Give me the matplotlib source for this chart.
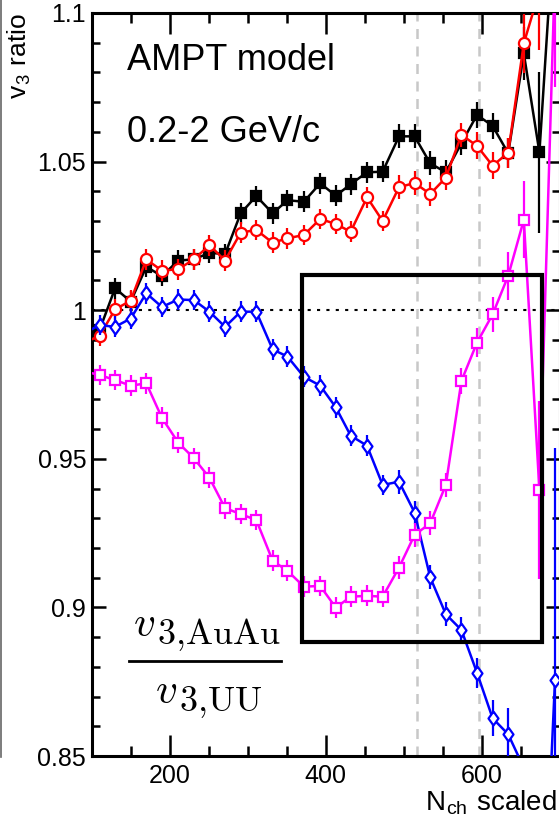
# v3 ratio AuAu/UU versus scaled multiplicity, AMPT

import numpy as np
import matplotlib.pyplot as plt
from matplotlib.lines import Line2D
from matplotlib.patches import Rectangle
from matplotlib.ticker import MultipleLocator, FormatStrFormatter

plt.rcParams['font.family'] = ['Liberation Sans', 'DejaVu Sans']
plt.rcParams['mathtext.fontset'] = 'cm'

nch = [89, 110, 130, 150, 170, 190, 211, 231, 251, 271, 291, 311, 332, 351, 372,
       393, 413, 432, 453, 473, 494, 514, 534, 554, 574, 594, 614, 634, 654, 674, 694]

ratio_black = [0.990, 0.9933, 1.0074, 1.0029, 1.0146, 1.0115, 1.0167, 1.0171, 1.0193, 1.0189,
               1.0326, 1.0384, 1.0326, 1.0370, 1.0365, 1.0427, 1.0385, 1.0424, 1.0464, 1.0466,
               1.0585, 1.0585, 1.0494, 1.0464, 1.0562, 1.0657, 1.0620, 1.0528, 1.0864, 1.0531, 1.135]
err_black = [0.004, 0.0035, 0.0035, 0.0035, 0.0035, 0.0035, 0.0035, 0.0035, 0.0035, 0.0035,
             0.0035, 0.0035, 0.0035, 0.0035, 0.0035, 0.0035, 0.0035, 0.0035, 0.0035, 0.0035,
             0.004, 0.004, 0.004, 0.004, 0.004, 0.0045, 0.0045, 0.005, 0.009, 0.027, 0.03]

ratio_red = [0.989, 0.9913, 1.0003, 1.0032, 1.0171, 1.0133, 1.0138, 1.0171, 1.0219, 1.0167,
             1.0261, 1.0270, 1.0227, 1.0242, 1.0253, 1.0307, 1.0290, 1.0264, 1.0380, 1.0300,
             1.0414, 1.0428, 1.0391, 1.0446, 1.0590, 1.0553, 1.0486, 1.0530, 1.0898, 1.1074, 1.16]
err_red = [0.004, 0.0035, 0.0035, 0.0035, 0.0035, 0.0035, 0.0035, 0.0035, 0.0035, 0.0035,
           0.0035, 0.0035, 0.0035, 0.0035, 0.0035, 0.0035, 0.0035, 0.0035, 0.0035, 0.0035,
           0.004, 0.004, 0.004, 0.004, 0.004, 0.0045, 0.0045, 0.005, 0.01, 0.02, 0.03]

ratio_blue = [0.992, 0.9950, 0.9944, 0.9972, 1.0057, 1.0011, 1.0036, 1.0034, 0.9995, 0.9944,
              0.9995, 0.9995, 0.9868, 0.9844, 0.9776, 0.9746, 0.9673, 0.9578, 0.9544, 0.9412,
              0.9423, 0.9319, 0.9101, 0.8977, 0.8924, 0.8780, 0.8627, 0.8573, 0.846, 0.760, 0.8756]
err_blue = [0.004, 0.0035, 0.0035, 0.0035, 0.0035, 0.0035, 0.0035, 0.0035, 0.0035, 0.0035,
            0.0035, 0.0035, 0.0035, 0.0035, 0.0035, 0.0035, 0.0035, 0.0035, 0.0035, 0.0035,
            0.004, 0.004, 0.004, 0.004, 0.0045, 0.005, 0.006, 0.009, 0.003, 0.05, 0.078]

ratio_magenta = [0.9795, 0.9782, 0.9765, 0.9746, 0.9754, 0.9638, 0.9554, 0.9502, 0.9436, 0.9334,
                 0.9314, 0.9294, 0.9157, 0.9123, 0.9070, 0.9072, 0.8999, 0.9036, 0.9039, 0.9036,
                 0.9134, 0.9244, 0.9283, 0.9412, 0.9762, 0.9891, 0.9986, 1.0116, 1.0304, 0.9395, 1.115]
err_magenta = [0.004, 0.0035, 0.0035, 0.0035, 0.0035, 0.0035, 0.0035, 0.0035, 0.0035, 0.0035,
               0.0035, 0.0035, 0.0035, 0.0035, 0.0035, 0.0035, 0.0035, 0.0035, 0.0035, 0.0035,
               0.004, 0.004, 0.004, 0.004, 0.0045, 0.005, 0.006, 0.008, 0.013, 0.03, 0.04]

# centrality boundaries and the zoom box
vlines = [517, 597]
box_x = [370, 677]
box_y = [0.8884, 1.0118]

W, H = 559, 826
fig = plt.figure(figsize=(W / 100, H / 100), dpi=100)
x0, x1, y0, y1 = 91.7, 559.7, 13, 756
ax = fig.add_axes([x0 / W, 1 - y1 / H, (x1 - x0) / W, (y1 - y0) / H])


def ax_xy(px, py):
    return (px - x0) / (x1 - x0), (y1 - py) / (y1 - y0)


ax.set_xlim(100, 700)
ax.set_ylim(0.85, 1.1)

ax.axhline(1.0, color='black', lw=1.5, ls=(0, (1.5, 3)), zorder=1)
for v in vlines:
    ax.axvline(v, color='#c8c8c8', lw=1.8, ls=(0, (4, 3)), zorder=1)

series = [
    (ratio_black, err_black, 'black', 's', 'black', 7.5),
    (ratio_red, err_red, 'red', 'o', 'white', 8),
    (ratio_blue, err_blue, 'blue', [(0, 1), (0.72, 0), (0, -1), (-0.72, 0), (0, 1)], 'white', 10),
    (ratio_magenta, err_magenta, '#ff00ff', 's', 'white', 7.5),
]
for i, (vals, errs, col, mk, fc, ms) in enumerate(series):
    ax.errorbar(nch, vals, yerr=errs, color=col, lw=1.8, elinewidth=1.6, capsize=0,
                marker=mk, ms=ms, mfc=fc, mec=col, mew=1.6, zorder=3 + i)

ax.add_patch(Rectangle((box_x[0], box_y[0]), box_x[1] - box_x[0], box_y[1] - box_y[0],
                       fill=False, ec='black', lw=3, zorder=10))

ax.xaxis.set_major_locator(MultipleLocator(200))
ax.xaxis.set_minor_locator(MultipleLocator(50))
ax.yaxis.set_major_locator(MultipleLocator(0.05))
ax.yaxis.set_minor_locator(MultipleLocator(0.01))
ax.yaxis.set_major_formatter(FormatStrFormatter('%g'))
ax.tick_params(which='both', direction='in', top=True, right=True, width=1.8,
               labelsize=18, colors='black')
ax.tick_params(axis='x', which='major', length=15, pad=6)
ax.tick_params(axis='x', which='minor', length=7.5)
ax.tick_params(axis='y', which='major', length=10, pad=4)
ax.tick_params(axis='y', which='minor', length=6)
for sp in ax.spines.values():
    sp.set_linewidth(2.2)

ax.text(*ax_xy(127, 70), 'AMPT model', transform=ax.transAxes, fontsize=26,
        ha='left', va='baseline')
ax.text(*ax_xy(127, 141.7), '0.2-2 GeV/c', transform=ax.transAxes, fontsize=26,
        ha='left', va='baseline')

# AuAu over UU fraction, v and its subscript set separately
fx0, fy = ax_xy(129, 661)
fx1, _ = ax_xy(281, 661)
ax.add_line(Line2D([fx0, fx1], [fy, fy], transform=ax.transAxes, color='black', lw=2))
for (vx, vy), sub in [((133, 636), r'$\mathrm{3{,}AuAu}$'), ((155, 703), r'$\mathrm{3{,}UU}$')]:
    ax.text(*ax_xy(vx, vy), r'$v$', transform=ax.transAxes, fontsize=31,
            ha='left', va='baseline')
    ax.text(*ax_xy(vx + 24, vy + 8), sub, transform=ax.transAxes, fontsize=26,
            ha='left', va='baseline')

fig.text(557 / W, 1 - 810 / H, r'N$_{\mathregular{ch}}$ scaled', fontsize=20,
         ha='right', va='baseline')
fig.text(33 / W, 1 - 13 / H, r'v$_{\mathregular{3}}$ ratio', fontsize=19, rotation=90,
         ha='right', va='top')

# edge of the neighbouring panel
fig.add_artist(Line2D([0.8 / W, 0.8 / W], [1 - 757 / H, 1], transform=fig.transFigure,
                      color='#666666', lw=1.2))

fig.savefig('out.png', dpi=100)
